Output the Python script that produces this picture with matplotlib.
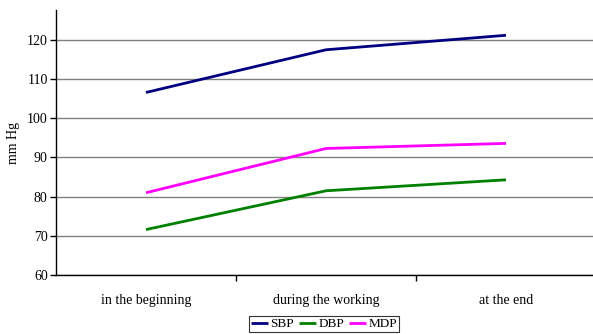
#!/usr/bin/env python

import matplotlib
matplotlib.use("Agg")
import matplotlib.pyplot as plt
from matplotlib.ticker import FixedLocator

periods = ["in the beginning", "during the working", "at the end"]
sbp = [106.6, 117.5, 121.2]
dbp = [71.6, 81.5, 84.3]
mdp = [81.0, 92.3, 93.6]
yticks = [60, 70, 80, 90, 100, 110, 120]

plt.rcParams["font.family"] = "Liberation Serif"
plt.rcParams["font.size"] = 10

W, H = 593, 334
fig = plt.figure(figsize=(W / 100, H / 100), dpi=100)
ax = fig.add_axes([56 / W, 59 / H, (596 - 56) / W, (275 - 10) / H])

x = [0, 1, 2]
ax.plot(x, sbp, color="#000080", lw=2, label="SBP", solid_capstyle="butt")
ax.plot(x, dbp, color="#008000", lw=2, label="DBP", solid_capstyle="butt")
ax.plot(x, mdp, color="#ff00ff", lw=2, label="MDP", solid_capstyle="butt")

ax.set_xlim(-0.5, 2.5)
ax.set_ylim(60, 60 + 265 / 3.917)
ax.set_yticks(yticks)
ax.yaxis.grid(True, color="#808080", lw=1)
ax.set_axisbelow(True)

ax.set_xticks(x)
ax.set_xticklabels(periods)
ax.xaxis.set_minor_locator(FixedLocator([0.5, 1.5]))
ax.tick_params(axis="x", which="major", length=0, pad=14)
ax.tick_params(axis="x", which="minor", length=4, width=1, direction="out")
ax.tick_params(axis="y", length=4, width=1, direction="out", pad=2)

for s in ["top", "right"]:
    ax.spines[s].set_visible(False)
ax.spines["left"].set_linewidth(1)
ax.spines["bottom"].set_linewidth(1)

ax.set_ylabel("mm Hg", labelpad=5)

leg = fig.legend(loc="upper left", bbox_to_anchor=(249 / W, 1 - 316 / H),
                 ncol=3, frameon=True, fancybox=False, handlelength=1.3,
                 handletextpad=0.15, columnspacing=0.4, borderpad=0.15,
                 borderaxespad=0, fontsize=9.5)
leg.get_frame().set_edgecolor("black")
leg.get_frame().set_linewidth(0.8)

fig.savefig("out.png", dpi=100)
